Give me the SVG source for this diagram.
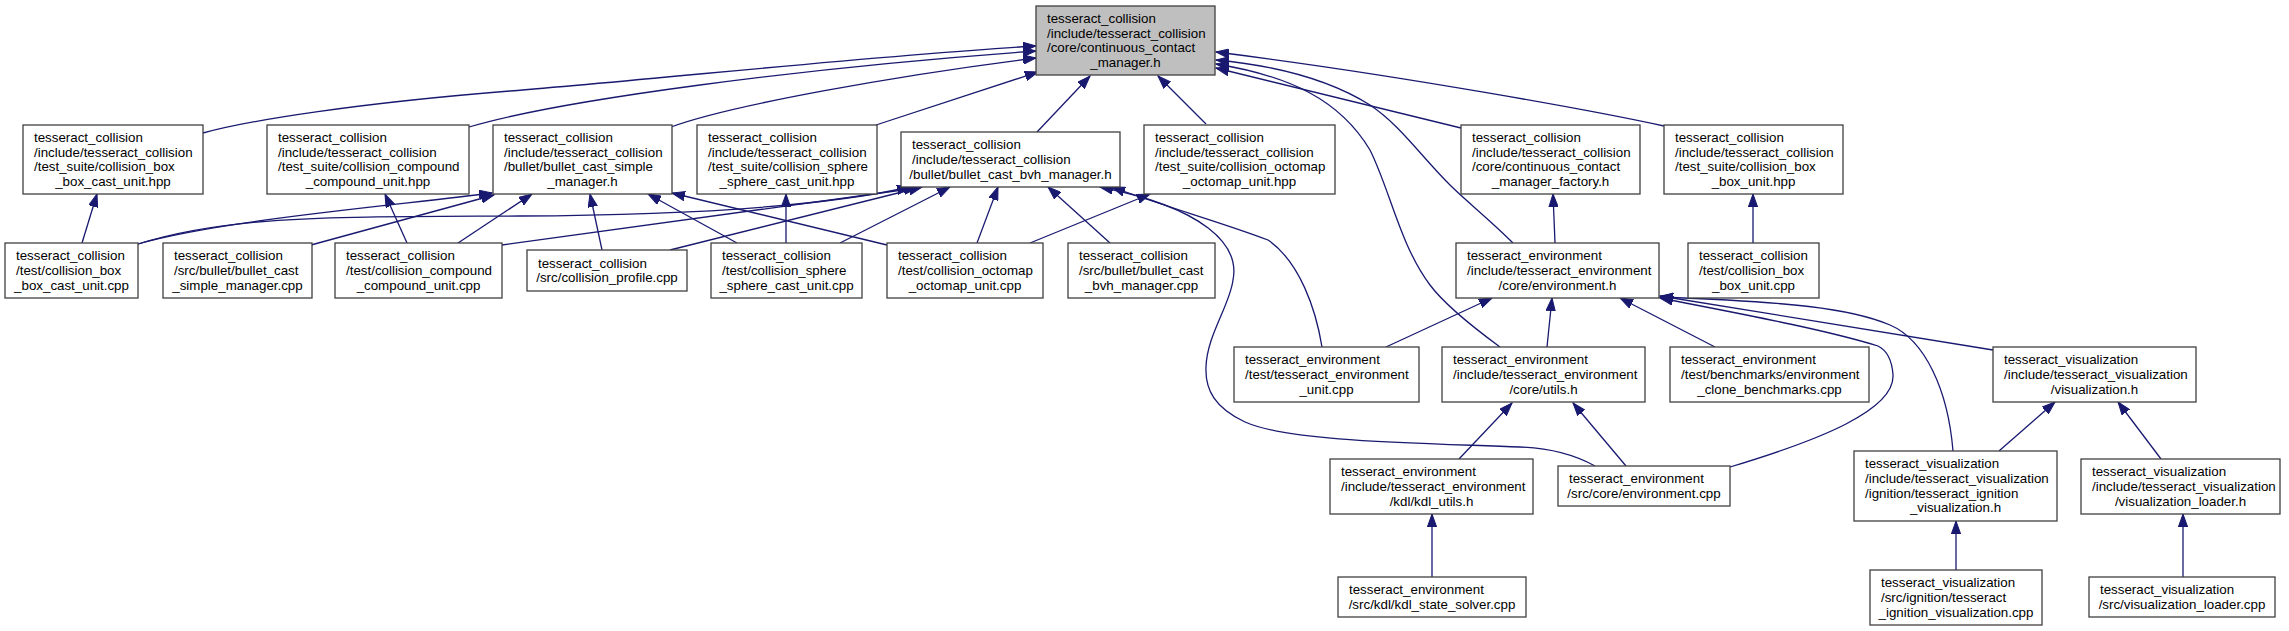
<svg xmlns="http://www.w3.org/2000/svg" width="2289" height="631" viewBox="0 0 2289 631">
<style>
.node rect{fill:#ffffff;stroke:#404040;stroke-width:1.3}
.root rect{fill:#bfbfbf}
text{font-family:"Liberation Sans",Arial,Helvetica,sans-serif;font-size:13.33px;fill:#000000}
text.c{text-anchor:middle}
.edges path{fill:none;stroke:#191970;stroke-width:1.3;marker-end:url(#arr)}
</style>
<defs>
<marker id="arr" markerUnits="userSpaceOnUse" markerWidth="14" markerHeight="10" refX="13" refY="4.65" orient="auto" viewBox="0 0 14 9.3">
<path d="M0,0 L13,4.65 L0,9.3 Z" fill="#191970" stroke="#191970" stroke-width="1"/>
</marker>
</defs>
<rect x="0" y="0" width="2289" height="631" fill="#ffffff"/>
<g id="edges" class="edges">
<path d="M203,133 C250,120 360,103 510,91 C660,79 880,55 1036,46"/>
<path d="M469,127 C560,100 800,68 1036,51"/>
<path d="M671,127 C730,105 900,75 1036,58"/>
<path d="M876,125 L1038,72"/>
<path d="M1037,132 L1090,76"/>
<path d="M1206,124 L1158,76"/>
<path d="M1461,128 L1216,68"/>
<path d="M1664,126 C1600,112 1400,75 1216,52"/>
<path d="M1513,243 C1490,220 1465,200 1450,185 C1420,155 1400,125 1370,105 C1330,80 1280,66 1216,60"/>
<path d="M1500,347 C1470,325 1445,305 1430,285 C1400,245 1390,190 1370,150 C1340,100 1290,76 1216,64"/>
<path d="M138,244 C220,220 400,205 492,193"/>
<path d="M311,245 L494,195"/>
<path d="M458,243 L532,194"/>
<path d="M602,250 L590,194"/>
<path d="M737,243 L648,194"/>
<path d="M887,245 L672,193"/>
<path d="M138,244 C230,215 330,217 520,216 C700,215 830,205 910,187"/>
<path d="M502,245 L917,188"/>
<path d="M670,250 L922,187"/>
<path d="M840,243 L950,187"/>
<path d="M977,243 L998,187"/>
<path d="M1110,243 L1048,187"/>
<path d="M1322,347 C1316,310 1300,262 1268,240 C1230,225 1160,205 1112,187"/>
<path d="M1595,466 C1575,455 1550,448 1520,447 C1420,443 1290,442 1245,422 C1215,408 1205,390 1206,367 C1207,335 1230,305 1233,280 C1240,245 1205,208 1100,187"/>
<path d="M1030,243 L1150,194"/>
<path d="M786,243 L786,194"/>
<path d="M82,243 L97,194"/>
<path d="M407,243 L385,194"/>
<path d="M1753,243 L1753,194"/>
<path d="M1555,243 L1553,194"/>
<path d="M1386,347 L1492,298"/>
<path d="M1547,347 L1552,298"/>
<path d="M1715,347 L1620,298"/>
<path d="M1730,467 C1820,440 1895,410 1893,375 C1892,360 1886,350 1878,346 C1820,328 1720,310 1660,298"/>
<path d="M1993,350 L1660,296"/>
<path d="M1953,451 C1948,390 1925,340 1890,325 C1850,308 1790,302 1660,297"/>
<path d="M1459,459 L1512,403"/>
<path d="M1626,466 L1573,403"/>
<path d="M1999,451 L2055,402"/>
<path d="M2161,459 L2118,402"/>
<path d="M1432,577 L1432,514"/>
<path d="M1956,570 L1956,521"/>
<path d="M2183,577 L2183,514"/>
</g>
<g id="n0" class="node root"><rect x="1036" y="6" width="179" height="69"/>
<text x="1047" y="22.8">tesseract_collision</text><text x="1047" y="37.5">/include/tesseract_collision</text><text x="1047" y="52.2">/core/continuous_contact</text><text class="c" x="1125.5" y="66.8">_manager.h</text></g>
<g id="nA" class="node"><rect x="23" y="125" width="180" height="69"/>
<text x="34" y="141.8">tesseract_collision</text><text x="34" y="156.5">/include/tesseract_collision</text><text x="34" y="171.2">/test_suite/collision_box</text><text class="c" x="113" y="185.8">_box_cast_unit.hpp</text></g>
<g id="nB" class="node"><rect x="267" y="125" width="202" height="69"/>
<text x="278" y="141.8">tesseract_collision</text><text x="278" y="156.5">/include/tesseract_collision</text><text x="278" y="171.2">/test_suite/collision_compound</text><text class="c" x="368" y="185.8">_compound_unit.hpp</text></g>
<g id="nC" class="node"><rect x="493" y="125" width="179" height="69"/>
<text x="504" y="141.8">tesseract_collision</text><text x="504" y="156.5">/include/tesseract_collision</text><text x="504" y="171.2">/bullet/bullet_cast_simple</text><text class="c" x="582.5" y="185.8">_manager.h</text></g>
<g id="nD" class="node"><rect x="697" y="125" width="180" height="69"/>
<text x="708" y="141.8">tesseract_collision</text><text x="708" y="156.5">/include/tesseract_collision</text><text x="708" y="171.2">/test_suite/collision_sphere</text><text class="c" x="787" y="185.8">_sphere_cast_unit.hpp</text></g>
<g id="nE" class="node"><rect x="901" y="132" width="219" height="55"/>
<text x="912" y="149.1">tesseract_collision</text><text x="912" y="163.8">/include/tesseract_collision</text><text class="c" x="1010.5" y="178.5">/bullet/bullet_cast_bvh_manager.h</text></g>
<g id="nF" class="node"><rect x="1144" y="125" width="191" height="69"/>
<text x="1155" y="141.8">tesseract_collision</text><text x="1155" y="156.5">/include/tesseract_collision</text><text x="1155" y="171.2">/test_suite/collision_octomap</text><text class="c" x="1239.5" y="185.8">_octomap_unit.hpp</text></g>
<g id="nG" class="node"><rect x="1461" y="125" width="179" height="69"/>
<text x="1472" y="141.8">tesseract_collision</text><text x="1472" y="156.5">/include/tesseract_collision</text><text x="1472" y="171.2">/core/continuous_contact</text><text class="c" x="1550.5" y="185.8">_manager_factory.h</text></g>
<g id="nH" class="node"><rect x="1664" y="125" width="179" height="69"/>
<text x="1675" y="141.8">tesseract_collision</text><text x="1675" y="156.5">/include/tesseract_collision</text><text x="1675" y="171.2">/test_suite/collision_box</text><text class="c" x="1753.5" y="185.8">_box_unit.hpp</text></g>
<g id="nI" class="node"><rect x="5" y="243" width="133" height="55"/>
<text x="16" y="260.1">tesseract_collision</text><text x="16" y="274.8">/test/collision_box</text><text class="c" x="71.5" y="289.5">_box_cast_unit.cpp</text></g>
<g id="nJ" class="node"><rect x="163" y="243" width="149" height="55"/>
<text x="174" y="260.1">tesseract_collision</text><text x="174" y="274.8">/src/bullet/bullet_cast</text><text class="c" x="237.5" y="289.5">_simple_manager.cpp</text></g>
<g id="nK" class="node"><rect x="335" y="243" width="167" height="55"/>
<text x="346" y="260.1">tesseract_collision</text><text x="346" y="274.8">/test/collision_compound</text><text class="c" x="418.5" y="289.5">_compound_unit.cpp</text></g>
<g id="nL" class="node"><rect x="527" y="250" width="160" height="41"/>
<text x="538" y="267.5">tesseract_collision</text><text class="c" x="607" y="282.1">/src/collision_profile.cpp</text></g>
<g id="nM" class="node"><rect x="711" y="243" width="151" height="55"/>
<text x="722" y="260.1">tesseract_collision</text><text x="722" y="274.8">/test/collision_sphere</text><text class="c" x="786.5" y="289.5">_sphere_cast_unit.cpp</text></g>
<g id="nO" class="node"><rect x="887" y="243" width="156" height="55"/>
<text x="898" y="260.1">tesseract_collision</text><text x="898" y="274.8">/test/collision_octomap</text><text class="c" x="965" y="289.5">_octomap_unit.cpp</text></g>
<g id="nP" class="node"><rect x="1068" y="243" width="147" height="55"/>
<text x="1079" y="260.1">tesseract_collision</text><text x="1079" y="274.8">/src/bullet/bullet_cast</text><text class="c" x="1141.5" y="289.5">_bvh_manager.cpp</text></g>
<g id="nQ" class="node"><rect x="1456" y="243" width="203" height="55"/>
<text x="1467" y="260.1">tesseract_environment</text><text x="1467" y="274.8">/include/tesseract_environment</text><text class="c" x="1557.5" y="289.5">/core/environment.h</text></g>
<g id="nR" class="node"><rect x="1688" y="243" width="131" height="55"/>
<text x="1699" y="260.1">tesseract_collision</text><text x="1699" y="274.8">/test/collision_box</text><text class="c" x="1753.5" y="289.5">_box_unit.cpp</text></g>
<g id="nS" class="node"><rect x="1234" y="347" width="185" height="55"/>
<text x="1245" y="364.1">tesseract_environment</text><text x="1245" y="378.8">/test/tesseract_environment</text><text class="c" x="1326.5" y="393.5">_unit.cpp</text></g>
<g id="nT" class="node"><rect x="1442" y="347" width="203" height="55"/>
<text x="1453" y="364.1">tesseract_environment</text><text x="1453" y="378.8">/include/tesseract_environment</text><text class="c" x="1543.5" y="393.5">/core/utils.h</text></g>
<g id="nU" class="node"><rect x="1670" y="347" width="199" height="55"/>
<text x="1681" y="364.1">tesseract_environment</text><text x="1681" y="378.8">/test/benchmarks/environment</text><text class="c" x="1769.5" y="393.5">_clone_benchmarks.cpp</text></g>
<g id="nV" class="node"><rect x="1993" y="347" width="203" height="55"/>
<text x="2004" y="364.1">tesseract_visualization</text><text x="2004" y="378.8">/include/tesseract_visualization</text><text class="c" x="2094.5" y="393.5">/visualization.h</text></g>
<g id="nW" class="node"><rect x="1330" y="459" width="203" height="55"/>
<text x="1341" y="476.1">tesseract_environment</text><text x="1341" y="490.8">/include/tesseract_environment</text><text class="c" x="1431.5" y="505.5">/kdl/kdl_utils.h</text></g>
<g id="nX" class="node"><rect x="1558" y="466" width="172" height="40"/>
<text x="1569" y="483">tesseract_environment</text><text class="c" x="1644" y="497.6">/src/core/environment.cpp</text></g>
<g id="nY" class="node"><rect x="1854" y="451" width="203" height="70"/>
<text x="1865" y="468.3">tesseract_visualization</text><text x="1865" y="483">/include/tesseract_visualization</text><text x="1865" y="497.6">/ignition/tesseract_ignition</text><text class="c" x="1955.5" y="512.3">_visualization.h</text></g>
<g id="nZ" class="node"><rect x="2081" y="459" width="199" height="55"/>
<text x="2092" y="476.1">tesseract_visualization</text><text x="2092" y="490.8">/include/tesseract_visualization</text><text class="c" x="2180.5" y="505.5">/visualization_loader.h</text></g>
<g id="nAA" class="node"><rect x="1338" y="577" width="188" height="40"/>
<text x="1349" y="594">tesseract_environment</text><text class="c" x="1432" y="608.6">/src/kdl/kdl_state_solver.cpp</text></g>
<g id="nAB" class="node"><rect x="1870" y="570" width="172" height="55"/>
<text x="1881" y="587.1">tesseract_visualization</text><text x="1881" y="601.8">/src/ignition/tesseract</text><text class="c" x="1956" y="616.5">_ignition_visualization.cpp</text></g>
<g id="nAC" class="node"><rect x="2089" y="577" width="186" height="40"/>
<text x="2100" y="594">tesseract_visualization</text><text class="c" x="2182" y="608.6">/src/visualization_loader.cpp</text></g>
</svg>
